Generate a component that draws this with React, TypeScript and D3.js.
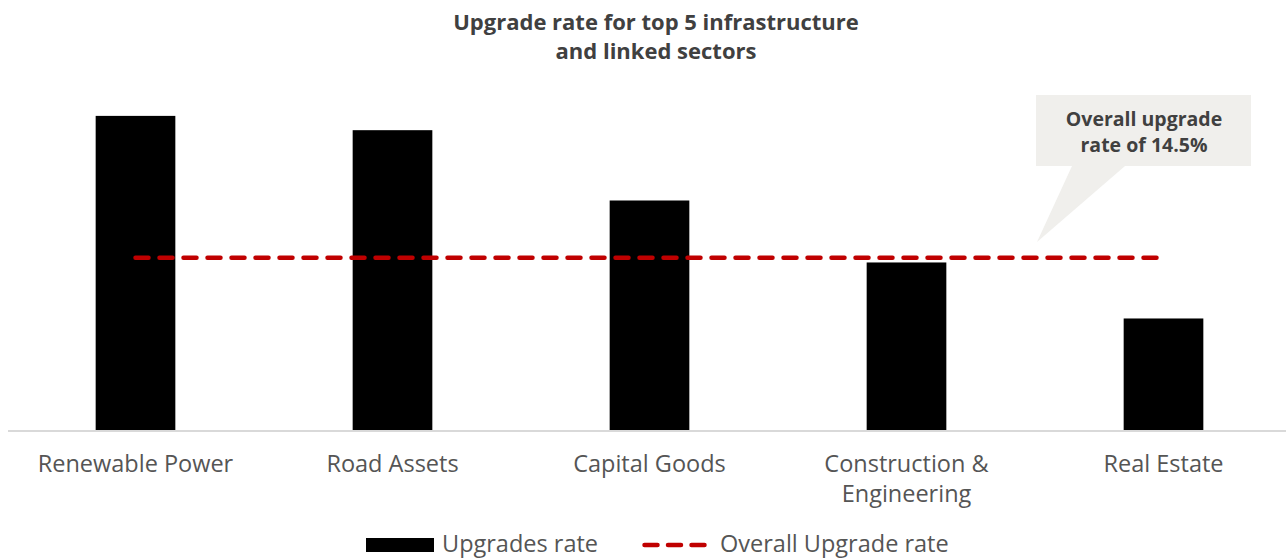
import React from "react";
import * as d3 from "d3";

const categories: string[][] = [
  ["Renewable Power"],
  ["Road Assets"],
  ["Capital Goods"],
  ["Construction &", "Engineering"],
  ["Real Estate"],
];
const upgradeRates: number[] = [26.4, 25.2, 19.3, 14.1, 9.4];
const overallRate = 14.5;
const titleLines = ["Upgrade rate for top 5 infrastructure", "and linked sectors"];
const calloutLines = ["Overall upgrade", "rate of 14.5%"];
const legendItems = ["Upgrades rate", "Overall Upgrade rate"];

const W = 1286;
const H = 559;
const FONT = "'Open Sans', sans-serif";
const TITLE = "#404040";
const TEXT = "#555555";
const RED = "#c00000";

export default function App() {
  const keys = categories.map((c) => c.join(" "));
  const x = d3.scaleBand<string>().domain(keys).range([7, 1292]).paddingInner(0.69).paddingOuter(0.345);
  const baseY = 430.5;
  const y = d3.scaleLinear().domain([0, overallRate]).range([baseY, 257.7]);

  const first = x(keys[0])! + x.bandwidth() / 2;
  const last = x(keys[keys.length - 1])! + x.bandwidth() / 2;

  return (
    <div style={{ position: "absolute", left: 0, top: 0 }}>
      <svg width={W} height={H} style={{ display: "block" }}>
        <rect width={W} height={H} fill="#fff" />
        {titleLines.map((t, i) => (
          <text key={t} x={656} y={30 + i * 29} textAnchor="middle" fontFamily={FONT} fontSize={22} fontWeight={700} fill={TITLE}>
            {t}
          </text>
        ))}
        {upgradeRates.map((v, i) => (
          <rect key={keys[i]} x={x(keys[i])} y={y(v)} width={x.bandwidth()} height={baseY - y(v)} fill="#000" />
        ))}
        <line x1={8} x2={1286} y1={431} y2={431} stroke="#d9d9d9" strokeWidth={2} />
        <line x1={first - 0} x2={last - 5} y1={y(overallRate)} y2={y(overallRate)} stroke={RED} strokeWidth={4.5} strokeDasharray="13 11" strokeLinecap="round" />
        {categories.map((lines, i) => (
          <text key={keys[i]} textAnchor="middle" fontFamily={FONT} fontSize={23.5} fill={TEXT}>
            {lines.map((l, j) => (
              <tspan key={l} x={x(keys[i])! + x.bandwidth() / 2} y={472 + j * 30}>{l}</tspan>
            ))}
          </text>
        ))}
        <path d="M1036,95 H1251 V166 H1125 L1037,242 L1072,166 H1036 Z" fill="#f0efec" />
        {calloutLines.map((t, i) => (
          <text key={t} x={1144} y={126 + i * 26} textAnchor="middle" fontFamily={FONT} fontSize={19.5} fontWeight={700} fill={TITLE}>
            {t}
          </text>
        ))}
        <rect x={366} y={538} width={68} height={14} fill="#000" />
        <text x={442} y={552} fontFamily={FONT} fontSize={23.5} fill={TEXT}>{legendItems[0]}</text>
        <line x1={644.5} x2={705} y1={545} y2={545} stroke={RED} strokeWidth={4.5} strokeDasharray="13 10.5" strokeLinecap="round" />
        <text x={720} y={552} fontFamily={FONT} fontSize={23.5} fill={TEXT}>{legendItems[1]}</text>
      </svg>
    </div>
  );
}
